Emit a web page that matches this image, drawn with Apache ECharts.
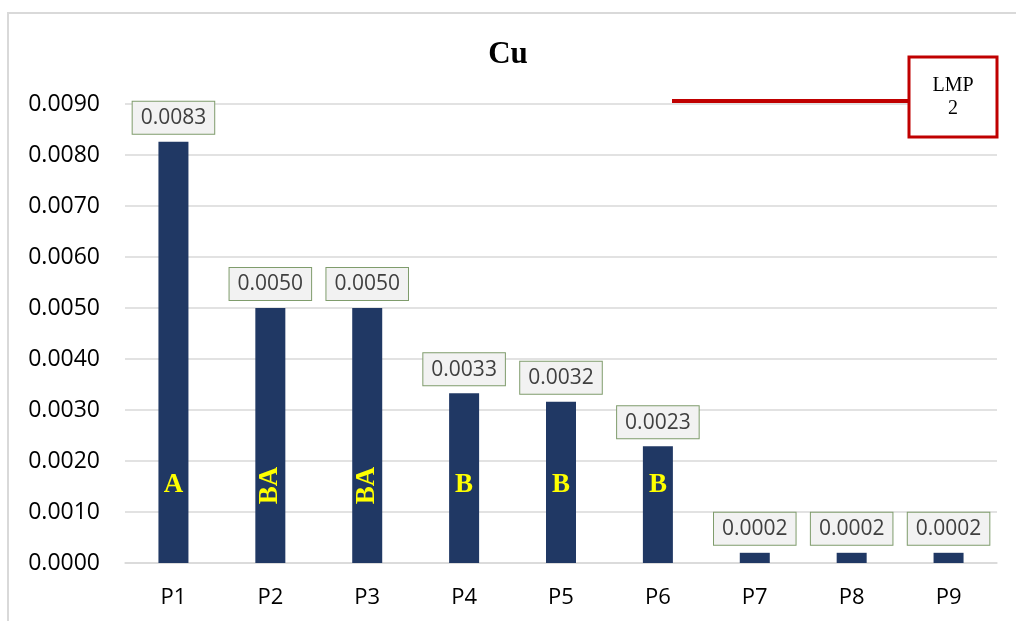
<!DOCTYPE html>
<html><head><meta charset="utf-8">
<script src="https://cdn.jsdelivr.net/npm/echarts@6/dist/echarts.min.js"></script>
<style>html,body{margin:0;padding:0;background:#fff}#c{width:1016px;height:621px}</style>
</head><body><div id="c"></div>
<script>
const categories = ['P1','P2','P3','P4','P5','P6','P7','P8','P9'];
const values = [0.00826, 0.0050, 0.0050, 0.00333, 0.00316, 0.00229, 0.0002, 0.0002, 0.0002];
const letters = ['A','BA','BA','B','B','B','','',''];
const yTicks = [0,0.001,0.002,0.003,0.004,0.005,0.006,0.007,0.008,0.009];
const LETTER_LEVEL = 0.00152;

const chart = echarts.init(document.getElementById('c'), null, {renderer:'canvas'});
const letterData = [];
letters.forEach((l,i)=>{ if(l) letterData.push({value:[categories[i], LETTER_LEVEL], name:l, label:{rotate: l.length>1?90:0}}); });

chart.setOption({
  animation:false,
  title:{text:'Cu', left:'center', top:34, textStyle:{fontFamily:'Liberation Serif', fontWeight:'bold', fontSize:31, color:'#000'}},
  grid:{left:125, right:19, top:104, bottom:58},
  xAxis:{type:'category', data:categories,
    axisLine:{lineStyle:{color:'#D9D9D9', width:1.5}}, axisTick:{show:false},
    axisLabel:{color:'#000', fontSize:22, fontFamily:'Open Sans', margin:24}},
  yAxis:{type:'value', min:0, max:0.009, interval:0.001,
    axisLabel:{color:'#000', fontSize:23, fontFamily:'Open Sans', margin:25, formatter:v=>v.toFixed(4)},
    splitLine:{lineStyle:{color:'#D9D9D9', width:1.5}}, axisLine:{show:false}, axisTick:{show:false}},
  series:[
    {type:'bar', data:values, barWidth:30, itemStyle:{color:'#203864'},
     label:{show:true, position:'top', distance:8, formatter:p=>p.value.toFixed(4),
       fontFamily:'Open Sans', fontSize:21, color:'#404040', backgroundColor:'#F2F2F2',
       borderColor:'#7F9C6C', borderWidth:1, padding:[6,8,5,8]}},
    {type:'scatter', data:letterData, symbolSize:0, z:5, itemStyle:{opacity:1},
     label:{show:true, position:'inside', formatter:p=>p.name, color:'#FFFF00', opacity:1,
       fontFamily:'Liberation Serif', fontWeight:'bold', fontSize:27}}
  ],
  graphic:[
    {type:'rect', shape:{x:8, y:13, width:1100, height:700}, style:{fill:'none', stroke:'#D9D9D9', lineWidth:2}, z:-1},
    {type:'line', shape:{x1:672, y1:101, x2:908, y2:101}, style:{stroke:'#C00000', lineWidth:4}, z:10},
    {type:'rect', shape:{x:909, y:57, width:88, height:80}, style:{fill:'#fff', stroke:'#C00000', lineWidth:3}, z:10},
    {type:'text', x:953, y:97, style:{text:'LMP\n2', fontFamily:'Liberation Serif', fontSize:20, fill:'#000', align:'center', verticalAlign:'middle', lineHeight:23}, z:11}
  ]
});
</script></body></html>
